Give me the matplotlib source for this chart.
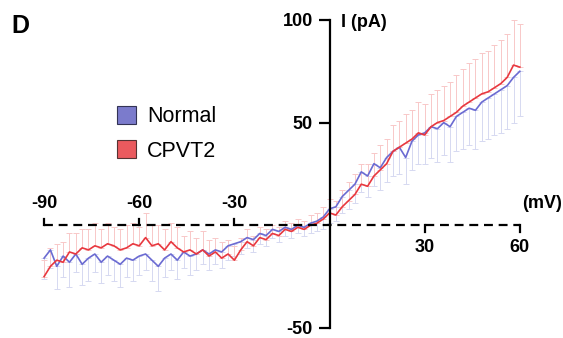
import matplotlib
matplotlib.use("Agg")
import matplotlib.pyplot as plt
from matplotlib.patches import Patch

plt.rcParams['font.family'] = ['Liberation Sans', 'DejaVu Sans']

voltage = list(range(-90, 61, 2))

normal = [-16, -12, -20, -15, -18, -14, -19, -16, -14, -18,
          -15, -17, -19, -16, -17, -15, -14, -17, -20, -16,
          -14, -17, -13, -15, -14, -12, -14, -12, -13, -10,
          -9, -8, -6, -7, -4, -5, -2, -3, -1, -2,
          0, -1, 1, 2, 4, 8, 9, 14, 17, 20,
          26, 24, 30, 28, 33, 36, 38, 33, 41, 44,
          45, 48, 47, 50, 48, 53, 55, 57, 56, 60,
          62, 64, 66, 68, 72, 75]

cpvt2 = [-25, -20, -17, -18, -13, -14, -11, -12, -10, -11,
         -9, -10, -12, -11, -9, -10, -6, -10, -9, -12,
         -8, -11, -13, -12, -14, -12, -15, -13, -16, -14,
         -17, -12, -8, -10, -6, -7, -4, -5, -2, -3,
         -1, -2, 0, 1, 3, 6, 5, 9, 12, 15,
         20, 19, 24, 27, 30, 36, 38, 40, 42, 45,
         44, 48, 50, 51, 53, 55, 58, 60, 62, 64,
         65, 67, 69, 72, 78, 77]

normal_err = [10, 9, 11, 10, 12, 9, 10, 11, 9, 10,
              9, 10, 11, 9, 10, 9, 8, 10, 12, 9,
              8, 9, 8, 9, 8, 7, 8, 7, 8, 7,
              6, 6, 5, 6, 5, 5, 4, 5, 4, 4,
              4, 4, 5, 5, 6, 7, 7, 8, 9, 9,
              10, 10, 11, 11, 12, 12, 13, 13, 14, 14,
              15, 15, 16, 16, 17, 17, 18, 18, 19, 19,
              20, 20, 21, 21, 22, 22]

cpvt2_err = [8, 9, 8, 10, 9, 10, 9, 10, 11, 9,
             10, 9, 10, 11, 10, 9, 12, 10, 9, 10,
             9, 10, 8, 9, 8, 9, 8, 7, 8, 7,
             7, 6, 6, 5, 5, 5, 4, 4, 4, 4,
             4, 4, 5, 5, 6, 7, 7, 8, 9, 10,
             10, 11, 11, 12, 12, 13, 13, 14, 14, 15,
             15, 16, 16, 17, 17, 18, 18, 19, 19, 20,
             20, 21, 21, 21, 22, 21]

labels = ["Normal", "CPVT2"]
y_ticks = [-50, 50, 100]
x_ticks_neg = [-90, -60, -30]
x_ticks_pos = [30, 60]

blue = "#6b6bd2"
red = "#e8383f"
blue_err = "#d6d9f1"
red_err = "#f8c8c8"

fig = plt.figure(figsize=(5.63, 3.38), dpi=100)
ax = fig.add_axes([0, 0, 1, 1])
ax.set_xlim(-103.9, 73.6)
ax.set_ylim(-54.9, 109.7)

zeros = [0] * len(voltage)
ax.errorbar(voltage, normal, yerr=[normal_err, zeros], fmt='none',
            ecolor=blue_err, elinewidth=0.7, capsize=2.5, capthick=0.7, zorder=1)
ax.errorbar(voltage, cpvt2, yerr=[zeros, cpvt2_err], fmt='none',
            ecolor=red_err, elinewidth=0.7, capsize=2.5, capthick=0.7, zorder=1)
ax.plot(voltage, normal, color=blue, lw=1.2, zorder=3)
ax.plot(voltage, cpvt2, color=red, lw=1.2, zorder=3)

# y axis through origin
for s in ['top', 'right', 'bottom']:
    ax.spines[s].set_visible(False)
ax.spines['left'].set_position(('data', 0))
ax.spines['left'].set_bounds(-50, 100)
ax.spines['left'].set_linewidth(1.6)
ax.spines['left'].set_zorder(4)
ax.set_yticks(y_ticks)
ax.set_yticklabels([str(v) for v in y_ticks], fontweight='bold', fontsize=13)
ax.tick_params(axis='y', direction='out', length=8, width=1.6, pad=4)
ax.set_xticks([])

# dashed x axis
ax.plot([-90, 60], [0, 0], color='black', lw=1.6, dashes=(4, 2.6), zorder=4)
for t in x_ticks_neg:
    ax.plot([t, t], [0, 3.2], color='black', lw=1.6, zorder=4)
    ax.text(t, 10.7, str(t), ha='center', va='center', fontweight='bold', fontsize=13)
for t in x_ticks_pos:
    ax.plot([t, t], [0, -3.2], color='black', lw=1.6, zorder=4)
    ax.text(t, -10.7, str(t), ha='center', va='center', fontweight='bold', fontsize=13)

ax.text(3.5, 98.5, "I (pA)", ha='left', va='center', fontweight='bold', fontsize=13)
ax.text(73.3, 10.7, "(mV)", ha='right', va='center', fontweight='bold', fontsize=13)
fig.text(11 / 563, 1 - 26 / 338, "D", ha='left', va='center', fontweight='bold', fontsize=18)

handles = [Patch(facecolor="#7b7bcc", edgecolor="#333355", lw=0.8),
           Patch(facecolor="#ea5a5e", edgecolor="#553333", lw=0.8)]
ax.legend(handles, labels, loc='upper left', bbox_to_anchor=(117 / 563, 1 - 106 / 338),
          frameon=False, fontsize=15.5, handlelength=0.9, handleheight=0.9,
          handletextpad=0.5, labelspacing=0.6, borderpad=0, borderaxespad=0)

fig.savefig("out.png", dpi=100)
